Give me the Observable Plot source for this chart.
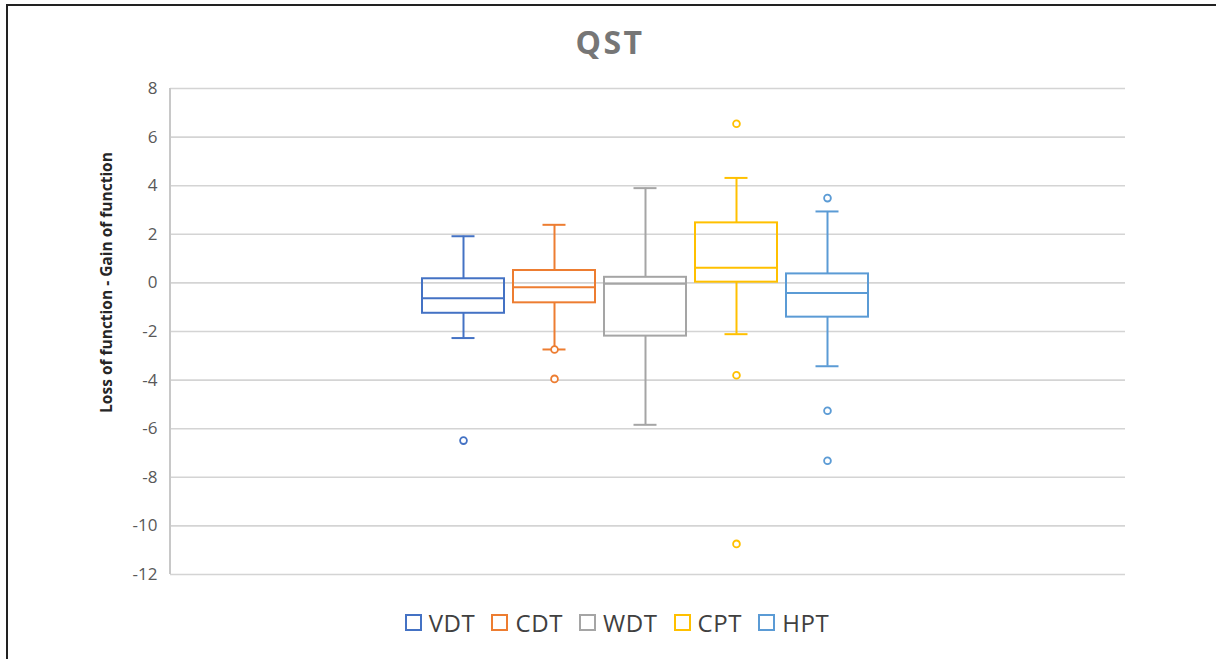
<!DOCTYPE html>
<html>
<head>
<meta charset="utf-8">
<script src="https://cdn.jsdelivr.net/npm/d3@7"></script>
<script src="https://cdn.jsdelivr.net/npm/@observablehq/plot@0.6"></script>
<style>
  html, body { margin: 0; padding: 0; background: #fff; }
  body { width: 1216px; height: 659px; position: relative; overflow: hidden; font-family: "Open Sans", "Liberation Sans", sans-serif; }
  #frame { position: absolute; left: 6px; top: 4px; right: -10px; bottom: -10px; border-left: 2px solid #222; border-top: 2px solid #222; }
  #title { position: absolute; top: 20px; left: 0; width: 1216px; text-align: center; font-size: 32px; font-weight: 700; color: #767676; letter-spacing: 2.5px; padding-left: 4px; box-sizing: border-box; }
  #chart { position: absolute; left: 0; top: 70px; }
  #legend { position: absolute; top: 606px; left: 0; width: 1216px; padding-left: 18px; box-sizing: border-box; display: flex; justify-content: center; gap: 16px; font-size: 24px; color: #404040; letter-spacing: 0.6px; }
  #legend .item { display: flex; align-items: center; }
  #legend .sw { width: 13px; height: 13px; border: 2px solid; margin-right: 7px; box-sizing: content-box; }
</style>
</head>
<body>
<div id="frame"></div>
<div id="title">QST</div>
<div id="chart"></div>
<div id="legend"></div>
<script>
// Series (categories)
const names = ["VDT", "CDT", "WDT", "CPT", "HPT"];
const colors = ["#4472C4", "#ED7D31", "#A5A5A5", "#FFC000", "#5B9BD5"];
// Box statistics
const whiskerLow  = [-2.27, -2.74, -5.84, -2.11, -3.43];
const q1          = [-1.25, -0.82, -2.19,  0.03, -1.41];
const median      = [-0.63, -0.18, -0.03,  0.62, -0.42];
const q3          = [ 0.17,  0.51,  0.23,  2.47,  0.37];
const whiskerHigh = [ 1.92,  2.39,  3.90,  4.32,  2.94];
// Outliers per series
const outliers = [
  [-6.49],
  [-2.74, -3.95],
  [],
  [6.55, -3.80, -10.74],
  [3.49, -5.26, -7.32]
];
const yTicks = [-12, -10, -8, -6, -4, -2, 0, 2, 4, 6, 8];
const yLabel = "Loss of function - Gain of function";

const boxes = names.map((n, i) => ({name: n, lo: whiskerLow[i], q1: q1[i], med: median[i], q3: q3[i], hi: whiskerHigh[i]}));
const pts = names.flatMap((n, i) => outliers[i].map(v => ({name: n, v})));

const color = {domain: names, range: colors};
const sw = 2;

const plot = Plot.plot({
  width: 1216,
  height: 514,
  marginLeft: 170,
  marginRight: 91,
  marginTop: 18,
  marginBottom: 10,
  style: {fontFamily: "'Open Sans', 'Liberation Sans', Arial, sans-serif", background: "transparent"},
  x: {domain: names, range: [420, 870], paddingInner: 0.096, paddingOuter: 0, axis: null},
  y: {domain: [-12, 8], ticks: yTicks, label: null},
  color: color,
  marks: [
    Plot.gridY(yTicks, {stroke: "#d4d4d4", strokeOpacity: 1, strokeWidth: 1.6}),
    Plot.axisY(yTicks, {tickSize: 0, tickPadding: 13, fontSize: 17, color: "#595959", label: null, tickFormat: d => String(d)}),
    Plot.text([yLabel], {frameAnchor: "left", textAnchor: "middle", rotate: -90, dx: -63, dy: -49, fontSize: 15.5, fontWeight: "bold", fill: "#262626"}),
    Plot.ruleX(boxes, {x: "name", y1: "lo", y2: "q1", stroke: "name", strokeWidth: sw}),
    Plot.ruleX(boxes, {x: "name", y1: "q3", y2: "hi", stroke: "name", strokeWidth: sw}),
    Plot.barY(boxes, {x: "name", y1: "q1", y2: "q3", fill: "none", stroke: "name", strokeWidth: sw}),
    Plot.tickY(boxes, {x: "name", y: "med", stroke: "name", strokeWidth: sw}),
    Plot.tickY(boxes, {x: "name", y: "lo", stroke: "name", strokeWidth: sw, insetLeft: 29.5, insetRight: 29.5}),
    Plot.tickY(boxes, {x: "name", y: "hi", stroke: "name", strokeWidth: sw, insetLeft: 29.5, insetRight: 29.5}),
    Plot.dot(pts, {x: "name", y: "v", stroke: "name", fill: "white", r: 3.4, strokeWidth: 1.8})
  ]
});

// left axis line of the plot area
d3.select(plot).append("line")
  .attr("x1", 170).attr("x2", 170).attr("y1", 18).attr("y2", 504)
  .attr("stroke", "#c8c8c8").attr("stroke-width", 2);

document.getElementById("chart").appendChild(plot);

const leg = document.getElementById("legend");
names.forEach((n, i) => {
  const it = document.createElement("div");
  it.className = "item";
  const s = document.createElement("span");
  s.className = "sw";
  s.style.borderColor = colors[i];
  it.appendChild(s);
  const t = document.createElement("span");
  t.textContent = n;
  it.appendChild(t);
  leg.appendChild(it);
});
</script>
</body>
</html>
